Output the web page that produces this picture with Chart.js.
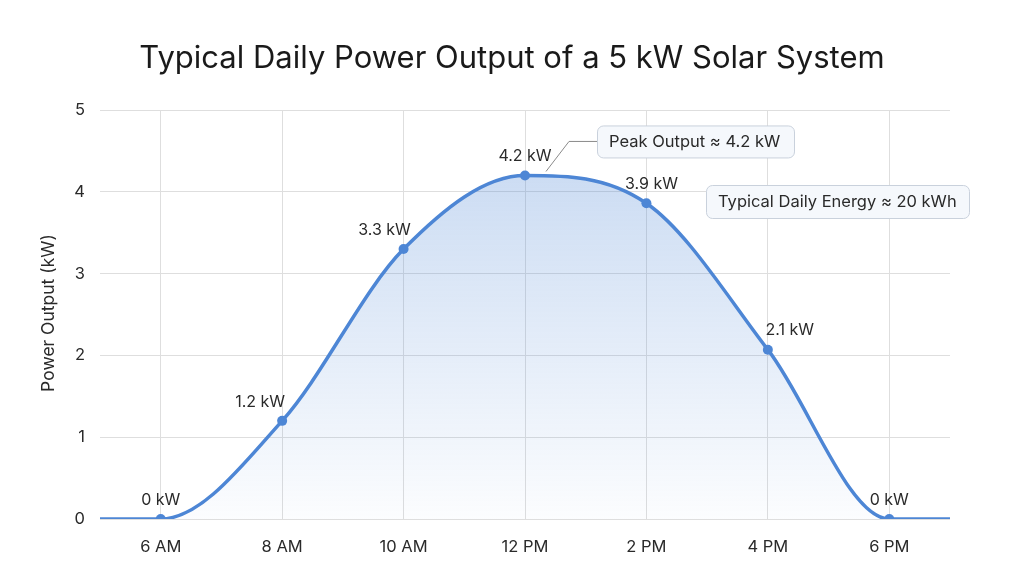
<!DOCTYPE html>
<html><head><meta charset="utf-8">
<script src="https://cdn.jsdelivr.net/npm/chart.js@4/dist/chart.umd.min.js"></script>
<style>html,body{margin:0;padding:0;background:#fff;}#wrap{width:1024px;height:576px;}</style>
</head><body><div id="wrap"><canvas id="c" width="1024" height="576"></canvas></div>
<script>
const hours = [5, 6, 8, 10, 12, 14, 16, 18, 19];
const powerKW = [0, 0, 1.2, 3.3, 4.2, 3.86, 2.07, 0, 0];
const tickHours = [6, 8, 10, 12, 14, 16, 18];
const tickLabels = ['6 AM', '8 AM', '10 AM', '12 PM', '2 PM', '4 PM', '6 PM'];
const titleText = 'Typical Daily Power Output of a 5 kW Solar System';
const yTitle = 'Power Output (kW)';
const peakNote = 'Peak Output \u2248 4.2 kW';
const energyNote = 'Typical Daily Energy \u2248 20 kWh';

const FONT = 'Inter, "Noto Sans", sans-serif';
const LINE = '#4d86d5';
// horizontal label offsets per point (style)
const labelDx = {6: 0, 8: -22, 10: -19, 12: 0, 14: 5, 16: 22, 18: 0};

const overlay = {
  id: 'overlay',
  afterDatasetsDraw(chart) {
    const ctx = chart.ctx;
    const xs = chart.scales.x, ys = chart.scales.y;
    ctx.save();
    // title
    ctx.fillStyle = '#1a1a1a';
    ctx.font = '31px ' + FONT;
    ctx.textAlign = 'center'; ctx.textBaseline = 'middle';
    ctx.fillText(titleText, 512, 59);
    // y title
    ctx.save();
    ctx.translate(49, 313);
    ctx.rotate(-Math.PI / 2);
    ctx.font = '17.5px ' + FONT;
    ctx.fillStyle = '#2a2a2a';
    ctx.fillText(yTitle, 0, 0);
    ctx.restore();
    // data labels
    ctx.font = '16px ' + FONT;
    ctx.fillStyle = '#2a2a2a';
    hours.forEach((h, i) => {
      if (!tickHours.includes(h)) return;
      const px = xs.getPixelForValue(h), py = ys.getPixelForValue(powerKW[i]);
      const t = (Math.round(powerKW[i] * 10) / 10) + ' kW';
      ctx.fillText(t, px + (labelDx[h] || 0), py - 19);
    });
    // peak connector
    const pi = powerKW.indexOf(Math.max(...powerKW));
    const ppx = xs.getPixelForValue(hours[pi]), ppy = ys.getPixelForValue(powerKW[pi]);
    ctx.strokeStyle = '#8a8a8a'; ctx.lineWidth = 1;
    ctx.beginPath();
    ctx.moveTo(ppx + 21, ppy - 4);
    ctx.lineTo(ppx + 44, ppy - 34);
    ctx.lineTo(ppx + 72, ppy - 34);
    ctx.stroke();
    // boxes
    function box(x, y, w, h, text) {
      ctx.beginPath();
      ctx.roundRect(x + 0.5, y + 0.5, w, h, 6);
      ctx.fillStyle = '#f5f8fc';
      ctx.fill();
      ctx.strokeStyle = '#c9d1dc'; ctx.lineWidth = 1;
      ctx.stroke();
      ctx.fillStyle = '#2a2a2a';
      ctx.font = '16.5px ' + FONT;
      ctx.textAlign = 'left'; ctx.textBaseline = 'middle';
      ctx.fillText(text, x + 12, y + h / 2 + 1);
    }
    box(ppx + 72, ppy - 50, 197, 32, peakNote);
    box(706, 185, 263, 33, energyNote);
    ctx.restore();
  }
};

new Chart(document.getElementById('c'), {
  type: 'line',
  data: {
    datasets: [{
      data: hours.map((h, i) => ({x: h, y: powerKW[i]})),
      borderColor: LINE,
      borderWidth: 3.5,
      cubicInterpolationMode: 'monotone',
      fill: 'origin',
      backgroundColor(c) {
        const a = c.chart.chartArea;
        if (!a) return 'rgba(77,134,213,0.2)';
        const g = c.chart.ctx.createLinearGradient(0, a.top, 0, a.bottom);
        g.addColorStop(0, 'rgba(77,134,213,0.34)');
        g.addColorStop(0.3, 'rgba(77,134,213,0.24)');
        g.addColorStop(1, 'rgba(77,134,213,0.02)');
        return g;
      },
      pointRadius: hours.map(h => tickHours.includes(h) ? 5 : 0),
      pointBackgroundColor: LINE,
      pointBorderColor: LINE,
      pointBorderWidth: 0
    }]
  },
  options: {
    responsive: false,
    animation: false,
    devicePixelRatio: 1,
    layout: {padding: {top: 110, right: 74, left: 0, bottom: 0}},
    plugins: {legend: {display: false}, tooltip: {enabled: false}, title: {display: false}},
    scales: {
      x: {
        type: 'linear', min: 5, max: 19,
        afterBuildTicks(s) { s.ticks = tickHours.map(v => ({value: v})); },
        afterFit(s) { s.height = 57; },
        grid: {color: '#dedede', drawTicks: false, lineWidth: 1},
        border: {display: false},
        ticks: {
          padding: 18, color: '#2a2a2a', font: {family: FONT, size: 16.5},
          callback(v) { const i = tickHours.indexOf(v); return i >= 0 ? tickLabels[i] : ''; }
        }
      },
      y: {
        min: 0, max: 5,
        afterFit(s) { s.width = 100; },
        grid: {color: '#dedede', drawTicks: false, lineWidth: 1},
        border: {display: false},
        ticks: {stepSize: 1, padding: 15, color: '#2a2a2a', font: {family: FONT, size: 16.5}}
      }
    }
  },
  plugins: [overlay]
});
</script>
</body></html>
